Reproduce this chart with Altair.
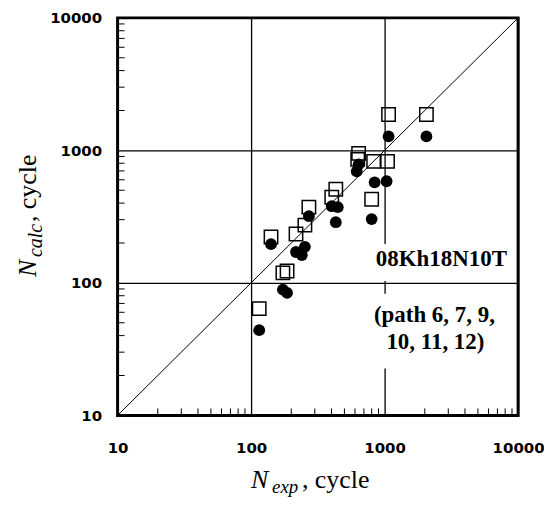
import altair as alt
import pandas as pd

# ---- data ----
sq_exp = [115, 141, 173, 186, 217, 253, 271, 402, 431, 639, 629, 800, 828, 1052, 1071, 2057]
sq_calc = [64, 222, 119, 123, 234, 273, 373, 443, 509, 949, 856, 428, 826, 826, 1866, 1866]
ci_exp = [115, 141, 173, 186, 217, 240, 253, 271, 402, 446, 431, 618, 639, 800, 842, 1035, 1071, 2057]
ci_calc = [44, 196, 89, 84, 171, 162, 187, 319, 379, 373, 287, 695, 785, 303, 574, 585, 1274, 1274]
major_ticks = [10, 100, 1000, 10000]
minor_ticks = [20, 30, 40, 50, 60, 70, 80, 90,
               200, 300, 400, 500, 600, 700, 800, 900,
               2000, 3000, 4000, 5000, 6000, 7000, 8000, 9000]
diag = [10, 10000]
label_main = "08Kh18N10T"
label_path = ["(path 6, 7, 9,", "10, 11, 12)"]

W, H = 402, 399

axis_common = dict(values=major_ticks, format="d", title=None, grid=True,
                   gridColor="black", gridWidth=1.3, gridOpacity=1, ticks=False,
                   domain=False, labelFont="DejaVu Sans", labelFontWeight="bold",
                   labelFontSize=15, labelColor="black", labelFlush=False,
                   labelOverlap=False)
xaxis = alt.Axis(labelPadding=25, **axis_common)
yaxis = alt.Axis(labelPadding=16, **axis_common)
xscale = alt.Scale(type="log", domain=[10, 10000])
yscale = alt.Scale(type="log", domain=[10, 10000])
X = alt.X("x:Q", scale=xscale, axis=xaxis)
Y = alt.Y("y:Q", scale=yscale, axis=yaxis)

sq_df = pd.DataFrame({"x": sq_exp, "y": sq_calc})
ci_df = pd.DataFrame({"x": ci_exp, "y": ci_calc})
diag_df = pd.DataFrame({"x": diag, "y": diag})
minor_x_df = pd.DataFrame({"x": minor_ticks})
minor_y_df = pd.DataFrame({"y": minor_ticks})

diag_line = alt.Chart(diag_df).mark_line(color="black", strokeWidth=1).encode(x=X, y=Y)

xminor = alt.Chart(minor_x_df).mark_rule(color="black", strokeWidth=1).encode(
    x=X, y=alt.value(H), y2=alt.value(H - 7))
yminor = alt.Chart(minor_y_df).mark_rule(color="black", strokeWidth=1).encode(
    y=Y, x=alt.value(0), x2=alt.value(7))

squares = alt.Chart(sq_df).mark_point(shape="square", filled=False, stroke="black",
                                      strokeWidth=1.5, size=180, opacity=1).encode(x=X, y=Y)
circles = alt.Chart(ci_df).mark_circle(color="black", size=140, opacity=1).encode(x=X, y=Y)

one = pd.DataFrame({"t": [""]})


def box(x1, x2, y1, y2):
    return alt.Chart(one).mark_rect(color="white").encode(
        x=alt.value(x1), x2=alt.value(x2), y=alt.value(y1), y2=alt.value(y2))


def txt(s, x, y, size, font="Liberation Serif", weight="normal", style="normal",
        align="left", angle=0):
    kw = dict(font=font, fontSize=size, fontWeight=weight, fontStyle=style,
              align=align, baseline="alphabetic", color="black")
    if angle:
        kw["angle"] = angle
    return alt.Chart(pd.DataFrame({"t": [s]})).mark_text(**kw).encode(
        text="t:N", x=alt.value(x), y=alt.value(y))


box1 = box(254, 397, 227, 264)
box2 = box(254, 387, 277, 352)
t1 = txt(label_main, 325, 249, 23, weight="bold", align="center")
t2 = txt(label_path[0], 318, 305, 23, weight="bold", align="center")
t3 = txt(label_path[1], 319, 332, 23, weight="bold", align="center")

# x-axis title: N_exp, cycle
xt1 = txt("N", 134, 472, 26, style="italic")
xt2 = txt("exp", 155, 477, 19, style="italic")
xt3 = txt(", cycle", 185, 472, 26)

# y-axis title: N_calc, cycle (rotated)
yt1 = txt("N", -82, 260, 26, style="italic", angle=270)
yt2 = txt("calc", -76, 240, 20, style="italic", angle=270)
yt3 = txt(", cycle", -82, 205, 26, angle=270)

chart = alt.layer(
    diag_line, xminor, yminor, box1, box2, squares, circles,
    t1, t2, t3, xt1, xt2, xt3, yt1, yt2, yt3
).properties(
    width=W, height=H,
    autosize=alt.AutoSizeParams(type="none"),
    padding={"left": 110, "top": 9, "right": 26, "bottom": 81},
    background="white",
).configure_view(stroke="black", strokeWidth=3)

chart.save("out.html", embed_options={"renderer": "svg", "actions": False})
